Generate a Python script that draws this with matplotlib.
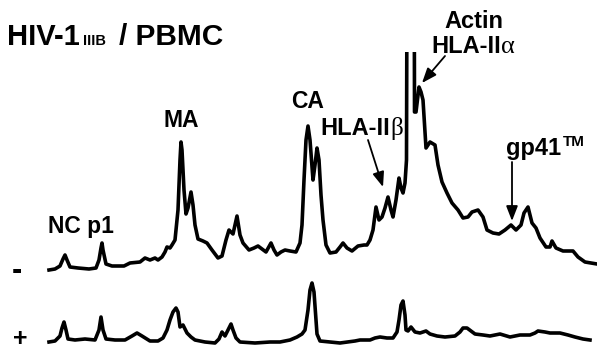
import matplotlib
matplotlib.use('Agg')
import matplotlib.pyplot as plt
from matplotlib.patches import Rectangle

plt.rcParams['font.family'] = ['Liberation Sans', 'DejaVu Sans']

# elution trace without inhibitor (-) (screen units, y down)
time_minus = [49, 55, 60, 63, 65, 67, 70, 78, 89, 96, 99, 101, 102, 103, 106, 112, 124, 130,
              140, 145, 150, 155, 158, 162, 165, 167, 170, 172, 175, 178, 180, 181, 182, 184,
              186, 188, 191, 193, 195, 198, 203, 207, 212, 218, 222, 226, 229, 233, 237, 240,
              243, 249, 254, 258, 262, 266, 271, 274, 277, 281, 285, 290, 296, 300, 302, 304,
              306, 308, 310, 313, 315, 317, 319, 321, 323, 326, 330, 336, 340, 343, 347, 352,
              358, 364, 367, 370, 373, 376, 379, 382, 385, 388, 391, 393, 396, 399, 401, 403,
              405, 406.5, 408, 410.5, 413.5, 414.5, 416, 419, 421, 423, 426, 430, 435, 438,
              442, 447, 452, 458, 463, 468, 472, 478, 483, 487, 493, 499, 505, 511, 516, 521,
              524, 528, 532, 536, 540, 546, 550, 552, 556, 563, 573, 578, 585, 597]
signal_minus = [270, 269, 266, 259, 255, 260, 267, 268, 269, 268, 260, 248, 243, 250, 264, 266,
                266, 263, 262, 258, 260, 258, 260, 257, 252, 247, 248, 245, 240, 210, 160, 142,
                150, 190, 214, 208, 192, 205, 225, 239, 241, 243, 250, 258, 256, 240, 230, 234,
                216, 235, 243, 250, 248, 246, 249, 252, 243, 250, 255, 252, 250, 251, 252, 243,
                225, 180, 140, 126, 140, 180, 165, 148, 160, 195, 220, 245, 253, 252, 247, 243,
                248, 251, 246, 245, 245, 240, 230, 207, 220, 217, 208, 197, 210, 217, 200, 178,
                188, 193, 183, 160, -400, -700, -400, 112, 112, 87, 92, 100, 148, 142, 145, 165,
                182, 193, 203, 210, 218, 217, 212, 210, 217, 230, 233, 234, 230, 225, 230, 225,
                213, 207, 223, 228, 238, 247, 247, 241, 248, 251, 251, 257, 262, 264]

# elution trace with inhibitor (+)
time_plus = [49, 55, 60, 62, 64, 66, 68, 75, 85, 95, 99, 101, 103, 106, 115, 125, 132, 137,
             142, 150, 158, 163, 167, 170, 173, 176, 178, 180, 183, 187, 191, 195, 205, 215,
             219, 222, 225, 228, 231, 233, 236, 240, 255, 270, 280, 290, 297, 302, 305, 308,
             310, 312, 314, 316, 317, 320, 330, 340, 355, 360, 370, 375, 380, 387, 393, 397,
             399, 401, 403, 405, 406, 408, 411, 415, 420, 426, 430, 437, 445, 455, 460, 463,
             467, 471, 475, 483, 490, 500, 510, 520, 530, 535, 538, 545, 550, 560, 568, 575,
             583, 590]
signal_plus = [342, 341, 336, 328, 322, 330, 339, 340, 339, 340, 330, 317, 330, 339, 340, 340,
               336, 333, 336, 341, 341, 338, 330, 320, 312, 308, 312, 327, 325, 333, 337, 340,
               342, 343, 339, 332, 336, 330, 324, 330, 338, 342, 343, 342, 342, 340, 337, 334,
               330, 310, 290, 283, 292, 320, 334, 341, 342, 343, 341, 340, 340, 338, 337, 338,
               338, 332, 320, 305, 301, 315, 330, 331, 327, 332, 333, 331, 334, 336, 337, 336,
               332, 328, 328, 331, 334, 335, 336, 334, 337, 335, 335, 333, 331, 332, 333, 333,
               335, 337, 339, 340]

fig = plt.figure(figsize=(5.97, 3.52), dpi=100)
ax = fig.add_axes([0, 0, 1, 1])
ax.set_xlim(0, 597)
ax.set_ylim(352, 0)
ax.axis('off')

# top trace: the big peak runs off scale
ln, = ax.plot(time_minus, signal_minus, color='black', lw=2.6, solid_joinstyle='round')
clip = Rectangle((0, 52), 597, 300, transform=ax.transData)
ln.set_clip_path(clip)
ax.plot(time_plus, signal_plus, color='black', lw=2.6, solid_joinstyle='round')

bold = dict(fontweight='bold', color='black')

# title
ax.text(7, 45, 'HIV-1', fontsize=21, va='baseline', **bold)
ax.text(83, 45, 'IIIB', fontsize=10.5, va='baseline', **bold)
ax.text(119, 45, '/ PBMC', fontsize=21.5, va='baseline', **bold)

# peak labels
ax.text(181, 127, 'MA', fontsize=16.5, ha='center', va='baseline', **bold)
ax.text(308, 108, 'CA', fontsize=16.5, ha='center', va='baseline', **bold)
ax.text(48, 233, 'NC p1', fontsize=16.5, ha='left', va='baseline', **bold)

ax.text(390, 135, 'HLA-II', fontsize=17, ha='right', va='baseline', **bold)
ax.text(390, 135, 'β', fontsize=18, ha='left', va='baseline', family='Liberation Serif')

ax.text(474, 28, 'Actin', fontsize=17, ha='center', va='baseline', **bold)
ax.text(501, 53, 'HLA-II', fontsize=17, ha='right', va='baseline', **bold)
ax.text(501, 53, 'α', fontsize=19, ha='left', va='baseline', family='Liberation Serif')

ax.text(506, 155, 'gp41', fontsize=17, ha='left', va='baseline', **bold)
ax.text(563, 146, 'TM', fontsize=11, ha='left', va='baseline', **bold)

# arrows
arw = dict(arrowstyle='-|>,head_length=0.9,head_width=0.35', lw=1.3, color='black',
           shrinkA=0, shrinkB=0)
ax.annotate('', xy=(383, 187), xytext=(368, 140), arrowprops=arw)
ax.annotate('', xy=(422, 83), xytext=(445, 56), arrowprops=arw)
ax.annotate('', xy=(512, 221), xytext=(512, 162), arrowprops=arw)

# - / + markers
ax.text(17, 271, '-', fontsize=22, ha='center', va='center', **bold)
ax.text(20, 346, '+', fontsize=18, ha='center', va='baseline', **bold)

fig.savefig('out.png', dpi=100)
